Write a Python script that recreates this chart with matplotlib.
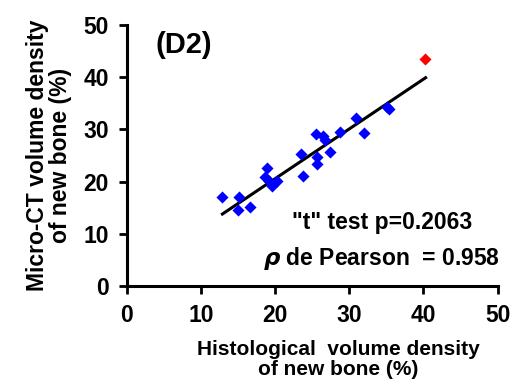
import numpy as np
import matplotlib
matplotlib.use("Agg")
import matplotlib.pyplot as plt

plt.rcParams['font.family'] = ['Liberation Sans', 'DejaVu Sans']
plt.rcParams['font.weight'] = 'bold'

# blue points (histology %, micro-CT %)
histo = [12.8, 15.2, 15.0, 16.6, 18.9, 18.7, 19.2, 19.6, 20.3, 23.5, 23.8,
         25.5, 25.6, 25.7, 26.5, 26.8, 27.4, 28.8, 30.9, 32.0, 35.1, 35.3]
micro = [17.1, 17.0, 14.6, 15.1, 22.7, 20.8, 20.2, 19.2, 20.1, 25.3, 21.1,
         29.2, 24.8, 23.3, 28.7, 28.0, 25.7, 29.6, 32.1, 29.3, 34.3, 33.9]
# outlier shown in red
histo_out = [40.2]
micro_out = [43.4]
# regression line
fit_x = [12.9, 40.3]
fit_slope = 0.953
fit_icpt = 1.5

xticks = [0, 10, 20, 30, 40, 50]
yticks = [0, 10, 20, 30, 40, 50]

fig = plt.figure(figsize=(5.14, 3.85), dpi=100)
ax = fig.add_axes([0.2465, 0.257, 0.7215, 0.678])

ax.scatter(histo, micro, marker='D', s=38, color='#0000ff', zorder=3, linewidths=0)
ax.scatter(histo_out, micro_out, marker='D', s=38, color='#ff0000', zorder=3, linewidths=0)
fx = np.array(fit_x)
ax.plot(fx, fit_slope * fx + fit_icpt, color='black', lw=2.2, zorder=2)

ax.set_xlim(0, 50)
ax.set_ylim(0, 50)
ax.set_xticks(xticks)
ax.set_yticks(yticks)
ax.tick_params(direction='out', length=6, width=2, labelsize=16.5, pad=7)
for s in ['top', 'right']:
    ax.spines[s].set_visible(False)
for s in ['left', 'bottom']:
    ax.spines[s].set_linewidth(2.2)

ax.set_xlabel('Histological  volume density\nof new bone (%)', fontsize=15,
              fontweight='bold', linespacing=1.1, labelpad=9, x=0.57)
ax.set_ylabel('Micro-CT volume density\nof new bone (%)', fontsize=16.5,
              fontweight='bold', linespacing=1.0, labelpad=8)

ax.text(0.077, 0.923, '(D2)', transform=ax.transAxes, fontsize=21, fontweight='bold',
        va='center', ha='left')
ax.text(0.933, 0.243, '"t" test p=0.2063', transform=ax.transAxes, fontsize=16.5,
        fontweight='bold', ha='right', va='center')
ax.text(1.006, 0.106, r'$\rho$' + ' de Pearson  = 0.958', transform=ax.transAxes,
        fontsize=16.5, fontweight='bold', ha='right', va='center')

fig.savefig('out.png', dpi=100)
